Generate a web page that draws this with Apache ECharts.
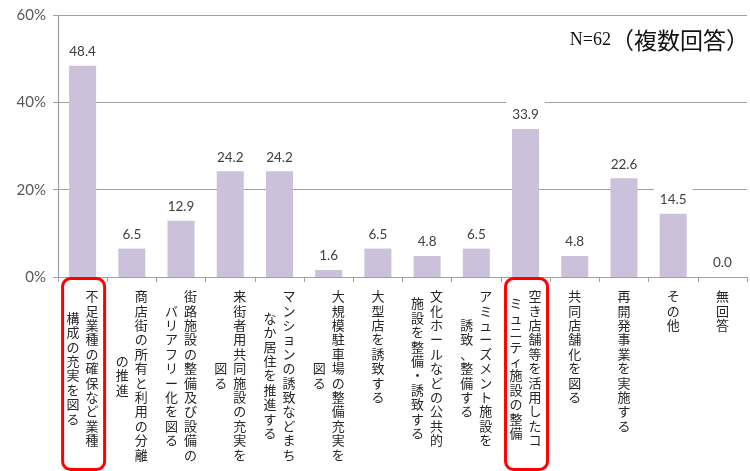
<!DOCTYPE html>
<html><head><meta charset="utf-8">
<script src="https://cdn.jsdelivr.net/npm/echarts@6/dist/echarts.min.js"></script>
<style>html,body{margin:0;padding:0;background:#fff}#c{width:750px;height:471px}</style>
</head><body><div id="c"></div>
<script>
// ---- data ----
const labelCol1 = ['不足業種の確保など業種', '商店街の所有と利用の分離', '街路施設の整備及び設備の', '来街者用共同施設の充実を', 'マンションの誘致などまち', '大規模駐車場の整備充実を', '大型店を誘致する', '文化ホールなどの公共的', 'アミューズメント施設を', '空き店舗等を活用したコ', '共同店舗化を図る', '再開発事業を実施する', 'その他', '無回答'];
const labelCol2 = ['構成の充実を図る', 'の推進', 'バリアフリー化を図る', '図る', 'なか居住を推進する', '図る', '', '施設を整備・誘致する', '誘致、整備する', 'ミュニティ施設の整備', '', '', '', ''];
const categories = labelCol1.map((s, i) => s + labelCol2[i]);
const values = [48.4, 6.5, 12.9, 24.2, 24.2, 1.6, 6.5, 4.8, 6.5, 33.9, 4.8, 22.6, 14.5, 0.0];
const yTicks = [0, 20, 40, 60];
const highlighted = [0, 9];
const noteParts = ['N=62', '（複数回答）'];

// ---- chart ----
const LH = 14.4;
const CJK = '"Noto Sans CJK JP", "Noto Sans CJK SC", sans-serif';
const spacerRich = {};
for (let k = 1; k <= 24; k++) spacerRich['h' + k] = { fontSize: 1, lineHeight: k * LH / 2 };
const colStyle = { fontSize: 13, lineHeight: LH, color: '#262626', fontFamily: CJK };

const chart = echarts.init(document.getElementById('c'), null, { renderer: 'canvas' });
const option = {
  animation: false,
  backgroundColor: '#fff',
  title: {
    text: '{a|' + noteParts[0] + '}{b|' + noteParts[1] + '}',
    right: -4, top: 24,
    textStyle: {
      fontWeight: 'normal',
      rich: {
        a: { fontFamily: '"Liberation Serif", serif', fontSize: 18, fontWeight: 'normal', color: '#111' },
        b: { fontFamily: CJK, fontSize: 23, fontWeight: 'normal', color: '#111' }
      }
    }
  },
  grid: { left: 58, right: 3, top: 15, bottom: 194, containLabel: false, outerBoundsMode: 'none' },
  xAxis: [{
    type: 'category', data: categories, position: 'bottom',
    axisLine: { show: true, lineStyle: { color: '#a0a0a0', width: 1.2 } },
    axisTick: { show: true, length: 5, lineStyle: { color: '#a0a0a0' } },
    axisLabel: {
      interval: 0, margin: 12,
      formatter: (v, i) => {
        const s = labelCol1[i].split('').join('\n');
        return labelCol2[i] ? '{r|' + s + '}' : '{c|' + s + '}';
      },
      rich: {
        r: Object.assign({ padding: [0, 0, 0, 19] }, colStyle),
        c: Object.assign({}, colStyle)
      }
    }
  }, {
    type: 'category', data: categories, position: 'bottom', gridIndex: 0,
    axisLine: { show: false }, axisTick: { show: false }, splitLine: { show: false },
    axisLabel: {
      interval: 0, margin: 12,
      formatter: (v, i) => {
        const c2 = labelCol2[i];
        if (!c2) return '';
        const k = labelCol1[i].length - c2.length;
        const s = c2.split('').join('\n');
        return (k > 0 ? '{h' + k + '| }\n' : '') + '{l|' + s + '}';
      },
      rich: Object.assign({ l: Object.assign({ padding: [0, 19, 0, 0] }, colStyle) }, spacerRich)
    }
  }],
  yAxis: {
    type: 'value', min: yTicks[0], max: yTicks[yTicks.length - 1], interval: yTicks[1] - yTicks[0],
    axisLine: { show: true, lineStyle: { color: '#a0a0a0', width: 1.2 } },
    axisTick: { show: true, length: 5, lineStyle: { color: '#a0a0a0' } },
    axisLabel: { formatter: '{value}%', fontSize: 15, color: '#595959', fontFamily: 'Lato, sans-serif', margin: 12 },
    splitLine: { show: true, lineStyle: { color: '#a0a0a0', width: 1.2 } }
  },
  series: [{
    type: 'bar', xAxisIndex: 0, data: values, barWidth: 27,
    itemStyle: { color: '#ccc1da' },
    label: {
      show: true, position: 'top', distance: 4,
      formatter: p => p.value.toFixed(1),
      fontSize: 13.5, color: '#404040', fontFamily: 'Lato, sans-serif',
      backgroundColor: '#fff', padding: [6, 6, 3, 6]
    }
  }]
};
chart.setOption(option);

const axisY = chart.convertToPixel({ yAxisIndex: 0 }, 0);
const boxW = 42;
chart.setOption({
  graphic: highlighted.map(idx => {
    const cx = chart.convertToPixel({ xAxisIndex: 0 }, idx) + 1;
    const top = axisY + 1.5;
    return {
      type: 'rect', z: 100,
      shape: { x: cx - boxW / 2, y: top, width: boxW, height: 469.5 - top, r: 8 },
      style: { fill: 'none', stroke: '#ff0000', lineWidth: 3 }
    };
  })
});
</script>
</body></html>
